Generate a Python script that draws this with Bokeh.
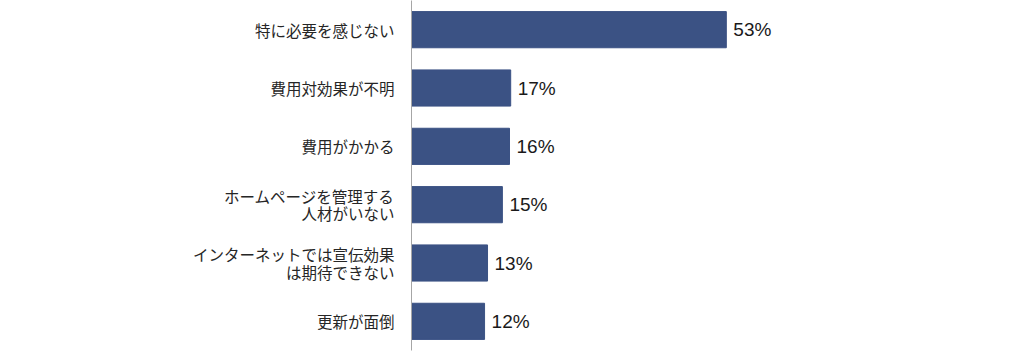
from bokeh.plotting import figure
from bokeh.models import ColumnDataSource, FactorRange, Range1d
from bokeh.core.properties import value
from bokeh.embed import file_html
from bokeh.resources import INLINE

categories = ["特に必要を感じない", "費用対効果が不明", "費用がかかる",
              "ホームページを管理する\n人材がいない",
              "インターネットでは宣伝効果\nは期待できない", "更新が面倒"]
values = [53.0, 16.7, 16.5, 15.3, 12.8, 12.3]
labels = ["53%", "17%", "16%", "15%", "13%", "12%"]

src = ColumnDataSource(dict(cat=categories, val=values, lab=labels))

p = figure(width=1024, height=358, output_backend="svg", toolbar_location=None,
           y_range=FactorRange(factors=list(reversed(categories))),
           x_range=Range1d(0, 103.2),
           min_border_left=411, min_border_right=0, min_border_top=0, min_border_bottom=8)

p.hbar(y="cat", left=0, right="val", height=0.62, source=src,
       fill_color="#3b5284", line_color="#3b5284")
p.text(x="val", y="cat", text="lab", source=src, x_offset=7,
       text_baseline="middle", text_align="left",
       text_font=value("Liberation Sans"), text_font_size="19px", text_color="#1a1a1a")

p.xaxis.visible = False
p.xgrid.visible = False
p.ygrid.visible = False
p.outline_line_color = None
yax = p.yaxis[0]
yax.axis_line_color = "#a6a6a6"
yax.axis_line_width = 1
yax.major_tick_line_color = None
yax.minor_tick_line_color = None
yax.major_label_standoff = 11
yax.major_label_text_font = "Noto Sans CJK JP"
yax.major_label_text_font_size = "15.5px"
yax.major_label_text_color = "#262626"
yax.major_label_text_line_height = 0.8

open("out.html", "w").write(file_html(p, INLINE))
